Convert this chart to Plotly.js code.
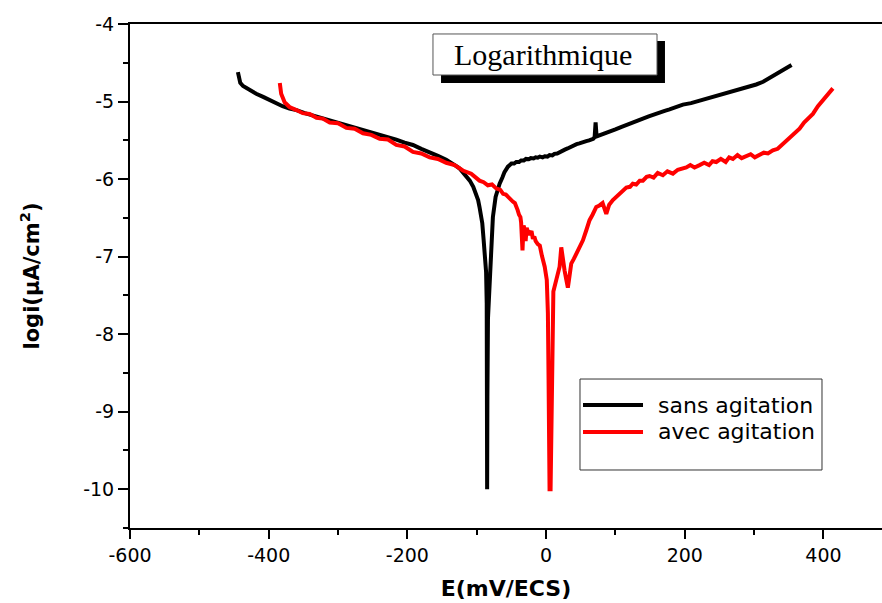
<!DOCTYPE html>
<html>
<head>
<meta charset="utf-8">
<script src="https://cdn.plot.ly/plotly-3.0.1.min.js"></script>
<style>html,body{margin:0;padding:0;background:#fff;}#chart{width:882px;height:603px;}</style>
</head>
<body>
<div id="chart"></div>
<script>
// ---- data ----
const seriesNames = ["sans agitation", "avec agitation"];

const sansE = [-444.4, -443, -441, -437, -428, -418, -408, -399, -389, -380, -370, -360, -348, -336, -324, -312, -300, -288, -276, -264, -252, -240, -228, -216, -204, -192, -180, -168, -156, -144, -136, -130, -125, -120, -115, -110, -105, -101, -98, -96, -94, -92, -90, -88, -86.5, -85.6, -85.2, -85, -84.6, -83.8, -82, -80.5, -79, -76.7, -72.8, -70, -67, -63, -60, -55, -50, -46, -43, -39, -36, -32, -29, -25, -22, -18, -15, -12, -9, -5, -2, 2, 5, 9, 12, 16, 19.5, 23, 27, 31, 34, 39, 44, 48, 53, 58, 62, 66, 68, 70, 71.4, 72.8, 76, 84, 91.6, 100, 108, 115.7, 124, 132, 139.6, 148, 156, 163.7, 171, 178, 188, 197.3, 209, 221, 233, 245, 257, 269, 281, 293, 303, 313, 320, 327, 335, 344, 354];
const sansLogI = [-4.62, -4.70, -4.76, -4.80, -4.85, -4.90, -4.94, -4.98, -5.02, -5.06, -5.09, -5.11, -5.15, -5.18, -5.21, -5.24, -5.27, -5.31, -5.33, -5.36, -5.39, -5.42, -5.46, -5.49, -5.53, -5.56, -5.61, -5.65, -5.70, -5.75, -5.79, -5.83, -5.86, -5.91, -5.96, -6.02, -6.10, -6.18, -6.27, -6.36, -6.46, -6.57, -6.79, -7.00, -7.20, -7.60, -8.60, -10.0, -8.80, -7.80, -7.40, -7.21, -6.79, -6.49, -6.23, -6.12, -6.06, -5.98, -5.91, -5.84, -5.80, -5.80, -5.78, -5.78, -5.76, -5.76, -5.74, -5.745, -5.73, -5.735, -5.72, -5.725, -5.71, -5.72, -5.705, -5.71, -5.69, -5.695, -5.675, -5.67, -5.65, -5.635, -5.62, -5.605, -5.59, -5.57, -5.55, -5.54, -5.52, -5.51, -5.50, -5.49, -5.48, -5.46, -5.27, -5.45, -5.44, -5.42, -5.39, -5.36, -5.33, -5.30, -5.27, -5.25, -5.22, -5.19, -5.17, -5.15, -5.12, -5.10, -5.07, -5.04, -5.02, -4.99, -4.96, -4.92, -4.89, -4.86, -4.84, -4.81, -4.78, -4.745, -4.71, -4.67, -4.63, -4.58, -4.53];

const avecE = [-384, -382, -377, -370, -360, -351, -341, -331, -322, -312, -300, -288, -276, -264, -252, -240, -228, -216, -204, -192, -180, -168, -156, -144, -132, -120, -108, -96, -90, -84, -78, -72, -66, -62, -58, -53, -48, -45, -43, -41, -39, -37, -36, -34, -32.5, -31, -29.5, -28, -26, -24, -21, -19, -17, -15, -12, -9, -6, -2, 1, 2.6, 3.6, 4, 5, 6.5, 7.9, 9.8, 10.5, 14.7, 17, 19.5, 21.9, 24, 26.7, 29, 31.4, 33, 36.3, 40, 43.5, 48, 53.1, 58, 62.7, 67, 72.4, 77, 81.5, 86.8, 91, 96.3, 101, 106, 111, 115.7, 121, 125, 130, 135, 139.6, 145, 149.2, 155, 161, 168.4, 175, 182.9, 190, 196, 202.2, 208, 214, 221.3, 228, 235, 240, 245.4, 252, 259, 264, 269.4, 276, 282, 288.7, 295, 301, 307.9, 314, 320, 327, 334, 340, 346.4, 352, 358, 365.5, 372, 378, 384.7, 392, 399.2, 406, 413.6];
const avecLogI = [-4.76, -4.90, -5.01, -5.07, -5.11, -5.15, -5.16, -5.21, -5.22, -5.27, -5.28, -5.34, -5.35, -5.41, -5.43, -5.48, -5.49, -5.56, -5.58, -5.65, -5.67, -5.72, -5.74, -5.79, -5.82, -5.89, -5.93, -6.02, -6.04, -6.08, -6.07, -6.12, -6.14, -6.19, -6.20, -6.25, -6.29, -6.31, -6.38, -6.40, -6.46, -6.49, -6.56, -6.92, -6.60, -6.64, -6.80, -6.63, -6.68, -6.72, -6.67, -6.77, -6.74, -6.80, -6.84, -6.86, -6.99, -7.13, -7.30, -7.73, -8.60, -9.40, -10.0, -10.0, -9.00, -8.10, -7.45, -7.30, -7.19, -7.13, -6.88, -7.05, -7.18, -7.29, -7.40, -7.30, -7.09, -7.03, -6.96, -6.89, -6.79, -6.66, -6.53, -6.46, -6.36, -6.34, -6.31, -6.45, -6.33, -6.27, -6.23, -6.19, -6.15, -6.11, -6.10, -6.06, -6.07, -6.02, -6.02, -5.97, -5.96, -5.98, -5.92, -5.95, -5.90, -5.93, -5.88, -5.87, -5.85, -5.82, -5.85, -5.82, -5.79, -5.82, -5.77, -5.78, -5.74, -5.78, -5.72, -5.74, -5.69, -5.73, -5.71, -5.68, -5.72, -5.69, -5.66, -5.67, -5.63, -5.61, -5.56, -5.52, -5.46, -5.41, -5.35, -5.27, -5.22, -5.16, -5.06, -4.98, -4.91, -4.83];

const xTickVals = [-600, -400, -200, 0, 200, 400];
const xTickText = ["-600", "-400", "-200", "0", "200", "400"];
const yTickVals = [-10, -9, -8, -7, -6, -5, -4];
const yTickText = ["-10", "-9", "-8", "-7", "-6", "-5", "-4"];
const chartTitle = "Logarithmique";

// ---- figure ----
const traces = [
  {x: sansE, y: sansLogI, name: seriesNames[0], type: "scatter", mode: "lines",
   line: {color: "#000000", width: 4}},
  {x: avecE, y: avecLogI, name: seriesNames[1], type: "scatter", mode: "lines",
   line: {color: "#ff0000", width: 4}}
];

const sans = "DejaVu Sans, Arial, sans-serif";
const layout = {
  width: 882, height: 603,
  margin: {l: 130, r: 0, t: 24, b: 75},
  paper_bgcolor: "#fff", plot_bgcolor: "#fff",
  showlegend: false,
  xaxis: {
    range: [-600, 484.4], showgrid: false, zeroline: false,
    showline: true, linecolor: "#000", linewidth: 2, mirror: true,
    ticks: "outside", ticklen: 9, tickwidth: 2, tickcolor: "#000",
    tickmode: "array", tickvals: xTickVals, ticktext: xTickText,
    minor: {dtick: 100, tick0: 0, ticks: "outside", ticklen: 5, tickwidth: 2, tickcolor: "#000", showgrid: false},
    tickfont: {family: sans, size: 19, color: "#000"},
    title: {text: "E(mV/ECS)", font: {family: sans, size: 22, weight: "bold", color: "#000"}, standoff: 16}
  },
  yaxis: {
    range: [-10.5, -4], showgrid: false, zeroline: false,
    showline: true, linecolor: "#000", linewidth: 2,
    ticks: "outside", ticklen: 10, tickwidth: 2, tickcolor: "#000",
    tickmode: "array", tickvals: yTickVals, ticktext: yTickText,
    minor: {dtick: 0.5, tick0: 0, ticks: "outside", ticklen: 5, tickwidth: 2, tickcolor: "#000", showgrid: false},
    tickfont: {family: sans, size: 19, color: "#000"},
    title: {text: "logi(µA/cm<sup>2</sup>)", font: {family: sans, size: 21, weight: "bold", color: "#000"}, standoff: 38}
  },
  shapes: [
    // title box shadow and box
    {type: "rect", xref: "paper", yref: "paper", x0: 0.4136, x1: 0.7114, y0: 0.8829, y1: 0.9663,
     fillcolor: "#000", line: {width: 0}},
    {type: "rect", xref: "paper", yref: "paper", x0: 0.4029, x1: 0.7008, y0: 0.8988, y1: 0.9802,
     fillcolor: "#fff", line: {color: "#555", width: 1}},
    // legend box
    {type: "rect", xref: "paper", yref: "paper", x0: 0.5984, x1: 0.9202, y0: 0.1151, y1: 0.2956,
     fillcolor: "#fff", line: {color: "#333", width: 1}},
    {type: "line", xref: "paper", yref: "paper", x0: 0.6024, x1: 0.6822, y0: 0.2440, y1: 0.2440,
     line: {color: "#000", width: 4}},
    {type: "line", xref: "paper", yref: "paper", x0: 0.6024, x1: 0.6822, y0: 0.1905, y1: 0.1905,
     line: {color: "#ff0000", width: 4}}
  ],
  annotations: [
    {xref: "paper", yref: "paper", x: 0.5492, y: 0.9385, text: chartTitle, showarrow: false,
     xanchor: "center", yanchor: "middle",
     font: {family: "Liberation Serif, Times New Roman, serif", size: 30, color: "#000"}},
    {xref: "paper", yref: "paper", x: 0.6995, y: 0.2440, text: seriesNames[0], showarrow: false,
     xanchor: "left", yanchor: "middle", font: {family: sans, size: 22, color: "#000"}},
    {xref: "paper", yref: "paper", x: 0.6995, y: 0.1905, text: seriesNames[1], showarrow: false,
     xanchor: "left", yanchor: "middle", font: {family: sans, size: 22, color: "#000"}}
  ]
};

Plotly.newPlot("chart", traces, layout, {displayModeBar: false, staticPlot: true});
</script>
</body>
</html>
